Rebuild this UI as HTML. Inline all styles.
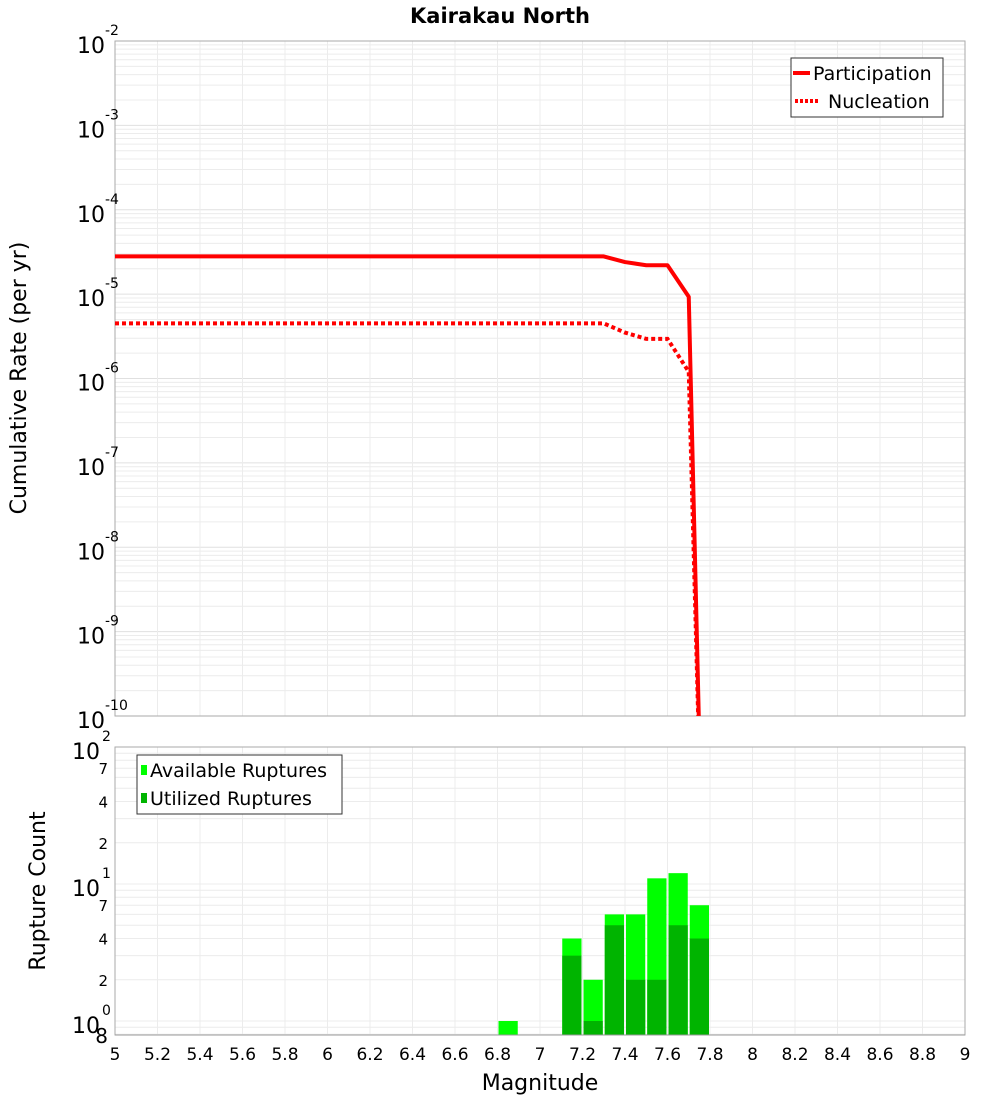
<!DOCTYPE html>
<html><head><meta charset="utf-8"><style>
body{margin:0;background:#fff;font-family:"DejaVu Sans","Liberation Sans",sans-serif}
svg text{font-family:"DejaVu Sans","Liberation Sans",sans-serif}
</style></head><body>
<svg id="c" width="1000" height="1100" xmlns="http://www.w3.org/2000/svg"></svg>
<script>
const mags = [5,5.1,5.2,5.3,5.4,5.5,5.6,5.7,5.8,5.9,6,6.1,6.2,6.3,6.4,6.5,6.6,6.7,6.8,6.9,7,7.1,7.2,7.3,7.4,7.5,7.6,7.7,7.75];
const partVals = [2.8e-5,2.8e-5,2.8e-5,2.8e-5,2.8e-5,2.8e-5,2.8e-5,2.8e-5,2.8e-5,2.8e-5,2.8e-5,2.8e-5,2.8e-5,2.8e-5,2.8e-5,2.8e-5,2.8e-5,2.8e-5,2.8e-5,2.8e-5,2.8e-5,2.8e-5,2.8e-5,2.8e-5,2.4e-5,2.2e-5,2.2e-5,9.3e-6,5e-11];
const nuclVals = [4.5e-6,4.5e-6,4.5e-6,4.5e-6,4.5e-6,4.5e-6,4.5e-6,4.5e-6,4.5e-6,4.5e-6,4.5e-6,4.5e-6,4.5e-6,4.5e-6,4.5e-6,4.5e-6,4.5e-6,4.5e-6,4.5e-6,4.5e-6,4.5e-6,4.5e-6,4.5e-6,4.5e-6,3.5e-6,2.95e-6,2.95e-6,1.2e-6,3e-11];
const binStarts = [6.8,7.1,7.2,7.3,7.4,7.5,7.6,7.7];
const availCounts = [1,4,2,6,6,11,12,7];
const utilCounts = [0,3,1,5,2,2,5,4];
const xTicks = ["5","5.2","5.4","5.6","5.8","6","6.2","6.4","6.6","6.8","7","7.2","7.4","7.6","7.8","8","8.2","8.4","8.6","8.8","9"];

const NS="http://www.w3.org/2000/svg", svg=document.getElementById('c');
function el(t,a,p){const e=document.createElementNS(NS,t);for(const k in a)e.setAttribute(k,a[k]);(p||svg).appendChild(e);return e;}
const X0=115,X1=965;
const xs=m=>X0+(m-5)/4*(X1-X0);
const T0=41,T1=716; const ys=v=>T0+(-2-Math.log10(v))*(T1-T0)/8;
const B0=747,B1=1035; const yb=v=>B0+(2-Math.log10(v))*137;

// grids
const g=el('g',{});  
for(let d=-10;d<-2;d++)for(let k=1;k<10;k++){const y=ys(k*Math.pow(10,d));el('line',{x1:X0,x2:X1,y1:y,y2:y,stroke:k==1?'#e0e0e0':'#ececec','stroke-width':1},g);}
for(let d=-1;d<2;d++)for(let k=1;k<10;k++){const y=yb(k*Math.pow(10,d));if(y>B0&&y<B1)el('line',{x1:X0,x2:X1,y1:y,y2:y,stroke:'#ececec','stroke-width':1},g);}
xTicks.forEach(t=>{const x=xs(+t);el('line',{x1:x,x2:x,y1:T0,y2:T1,stroke:'#ececec'},g);el('line',{x1:x,x2:x,y1:B0,y2:B1,stroke:'#ececec'},g);});

// frames
let f=el('rect',{x:X0,y:T0,width:X1-X0,height:T1-T0,fill:'none',stroke:'#aaa'});
 
f=el('rect',{x:X0,y:B0,width:X1-X0,height:B1-B0,fill:'none',stroke:'#aaa'});
 

// title
let t=el('text',{x:500,y:23,'text-anchor':'middle','font-size':21,'font-weight':'bold'});t.textContent='Kairakau North';
 

// top y labels
for(let d=-10;d<=-2;d++){const y=ys(Math.pow(10,d));
 const tx=el('text',{x:105,y:y+12,'text-anchor':'end','font-size':22});
  
 tx.textContent='10';
 const s=el('text',{x:105,y:y-6,'font-size':14});s.textContent=String(d);
  }
t=el('text',{x:0,y:0,'font-size':22,'text-anchor':'middle',transform:'translate(26,378) rotate(-90)'});t.textContent='Cumulative Rate (per yr)';
 

// curves (clipped)
el('clipPath',{id:'cp'}).appendChild(Object.assign(document.createElementNS(NS,'rect'),{}));
document.querySelector('#cp rect').setAttribute('x',X0);document.querySelector('#cp rect').setAttribute('y',T0);
document.querySelector('#cp rect').setAttribute('width',X1-X0);document.querySelector('#cp rect').setAttribute('height',T1-T0);
const pp=mags.map((m,i)=>xs(m)+','+ys(partVals[i])).join(' ');
let l=el('polyline',{points:pp,fill:'none',stroke:'#f00','stroke-width':4,'clip-path':'url(#cp)','stroke-linejoin':'round'});
 
const np=mags.map((m,i)=>xs(m)+','+ys(nuclVals[i])).join(' ');
l=el('polyline',{points:np,fill:'none',stroke:'#f00','stroke-width':4,'stroke-dasharray':'4,3','clip-path':'url(#cp)'});
 

// top legend
const lg=el('g',{});  
el('rect',{x:791,y:58,width:152,height:59,fill:'#fff',stroke:'#333'},lg);
el('line',{x1:793,x2:810,y1:73,y2:73,stroke:'#f00','stroke-width':4},lg);
el('line',{x1:795,x2:820,y1:101,y2:101,stroke:'#f00','stroke-width':4,'stroke-dasharray':'3,2'},lg);
t=el('text',{x:813,y:80,'font-size':19},lg);t.textContent='Participation';
t=el('text',{x:828,y:108,'font-size':19},lg);t.textContent='Nucleation';

// bars
binStarts.forEach((b,i)=>{const x=xs(b)+1,w=xs(b+0.1)-xs(b)-2;
 const a=el('rect',{x:x,y:yb(availCounts[i]),width:w,height:B1-yb(availCounts[i]),fill:'#00ff00'});
  
 if(utilCounts[i]>0){const u=el('rect',{x:x,y:yb(utilCounts[i]),width:w,height:B1-yb(utilCounts[i]),fill:'#00b400'});
  }});
el('line',{x1:X0,x2:X1,y1:B1,y2:B1,stroke:'#999'});

// bottom y labels
[[0,1021],[1,884],[2,747]].forEach(([d,y])=>{
 const tx=el('text',{x:100,y:y+12,'text-anchor':'end','font-size':22});tx.textContent='10';
  
 const s=el('text',{x:102,y:y-6,'font-size':14});s.textContent=String(d);
  });
[[7,1],[4,1],[2,1],[7,0],[4,0],[2,0]].forEach(([k,d])=>{const y=yb(k*Math.pow(10,d));
 const tx=el('text',{x:108,y:y+6,'text-anchor':'end','font-size':15});tx.textContent=k;
  });
t=el('text',{x:108,y:1043,'text-anchor':'end','font-size':20});t.textContent='8';
 
t=el('text',{x:0,y:0,'font-size':22,'text-anchor':'middle',transform:'translate(45,891) rotate(-90)'});t.textContent='Rupture Count';
 

// x ticks
xTicks.forEach(v=>{const tx=el('text',{x:xs(+v),y:1060,'text-anchor':'middle','font-size':17});tx.textContent=v;
  });
t=el('text',{x:540,y:1090,'text-anchor':'middle','font-size':22});t.textContent='Magnitude';
 

// bottom legend
const bl=el('g',{});  
el('rect',{x:137,y:755,width:205,height:59,fill:'#fff',stroke:'#333'},bl);
el('rect',{x:141,y:765,width:6,height:10,fill:'#00ff00'},bl);
el('rect',{x:141,y:793,width:6,height:10,fill:'#00b400'},bl);
t=el('text',{x:150,y:777,'font-size':19},bl);t.textContent='Available Ruptures';
t=el('text',{x:150,y:805,'font-size':19},bl);t.textContent='Utilized Ruptures';
</script>
</body></html>
